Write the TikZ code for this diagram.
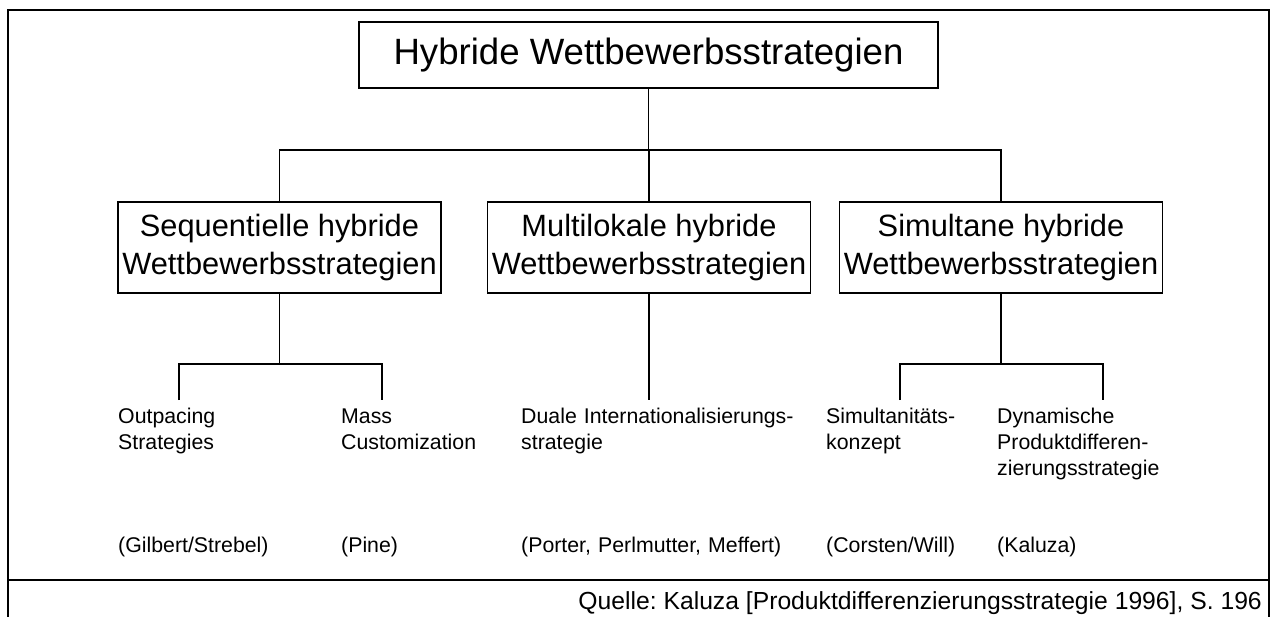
\documentclass[tikz,border=0pt]{standalone}
\usepackage{fontspec}
\setmainfont{Liberation Sans}
\frenchspacing
\begin{document}
\begin{tikzpicture}[x=1pt,y=-1pt,
  frame/.style={line width=2pt,black},
  link/.style={line width=1.4pt,black},
  topbox/.style={draw,line width=1.4pt,minimum width=579pt,minimum height=66pt,inner sep=0pt,
    font=\fontsize{36.6}{44}\selectfont},
  midbox/.style={draw,line width=1.4pt,minimum width=323pt,minimum height=91pt,inner sep=0pt,
    align=center,font=\fontsize{30.8}{37.5}\selectfont},
  leaf/.style={anchor=base west,inner sep=0pt,text width=280pt,align=left,
    font=\fontsize{21.3}{26}\selectfont},
  source/.style={anchor=base east,inner sep=0pt,font=\fontsize{24.7}{30}\selectfont}]
  \useasboundingbox (0,0) rectangle (1273,617);
  \clip (0,0) rectangle (1273,617);

  % outer frame with the source line at the bottom
  \draw[frame] (8,640) -- (8,10) -- (1269,10) -- (1269,640);
  \draw[frame] (8,580) -- (1269,580);

  % boxes
  \node[topbox] (top) at (648.5,55) {Hybride Wettbewerbsstrategien};
  \node[midbox] (seq) at (279.5,247.5) {Sequentielle hybride\\Wettbewerbsstrategien};
  \node[midbox] (mul) at (649,247.5) {Multilokale hybride\\Wettbewerbsstrategien};
  \node[midbox] (sim) at (1001,247.5) {Simultane hybride\\Wettbewerbsstrategien};

  % strategy labels
  \node[leaf] (outp) at (118,423) {Outpacing\\Strategies};
  \node[leaf] (mass) at (341,423) {Mass\\Customization};
  \node[leaf] (dual) at (521,423) {Duale Internationalisierungs-\\strategie};
  \node[leaf] (simk) at (826,423) {Simultanitäts-\\konzept};
  \node[leaf] (dyn) at (997,423) {Dynamische\\Produktdifferen-\\zierungsstrategie};

  % authors
  \node[leaf] (a1) at (118,552) {(Gilbert/Strebel)};
  \node[leaf] (a2) at (341,552) {(Pine)};
  \node[leaf] (a3) at (521,552) {(Porter, Perlmutter, Meffert)};
  \node[leaf] (a4) at (826,552) {(Corsten/Will)};
  \node[leaf] (a5) at (997,552) {(Kaluza)};

  \node[source] (src) at (1262,609) {Quelle: Kaluza [Produktdifferenzierungsstrategie 1996], S. 196};

  % junction points and line ends above the labels
  \coordinate (bar) at (648.5,150);
  \coordinate (sj) at (279.5,364);
  \coordinate (mj) at (649,400);
  \coordinate (tj) at (1001,364);
  \coordinate (e1) at (179,400);
  \coordinate (e2) at (382,400);
  \coordinate (e4) at (900,400);
  \coordinate (e5) at (1103,400);

  % tree connectors
  \draw[link] (top.south) -- (bar);
  \draw[link] (seq.north) |- (bar) -| (sim.north);
  \draw[link] (mul.north) -- (mul.north |- bar);
  \draw[link] (seq.south) -- (sj);
  \draw[link] (e1) |- (sj) -| (e2);
  \draw[link] (mul.south) -- (mj);
  \draw[link] (sim.south) -- (tj);
  \draw[link] (e4) |- (tj) -| (e5);
\end{tikzpicture}
\end{document}
